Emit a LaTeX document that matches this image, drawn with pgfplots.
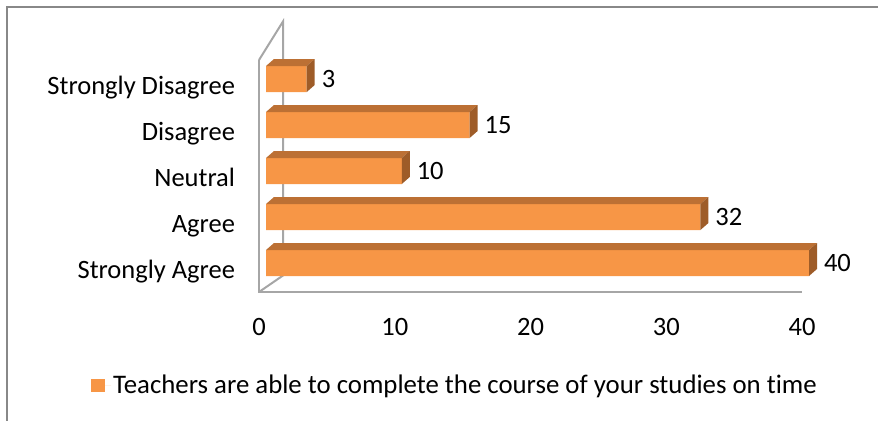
\documentclass[border=0pt]{standalone}
\usepackage{pgfplots}
\pgfplotsset{compat=1.18}
\usepackage{fontspec}
\setmainfont{Carlito}[Ligatures=NoCommon]
\definecolor{barfront}{RGB}{247,150,70}
\definecolor{bartop}{RGB}{188,112,52}
\definecolor{barside}{RGB}{158,92,40}
\definecolor{wall}{RGB}{166,166,166}
\definecolor{frame}{RGB}{136,136,136}

\pgfdeclareplotmark{bar3d}{%
  \pgfmathsetmacro\L{\val*13.575}%
  \pgfsetfillcolor{bartop}%
  \pgfpathmoveto{\pgfqpoint{-\L bp}{13bp}}%
  \pgfpathlineto{\pgfqpoint{0bp}{13bp}}%
  \pgfpathlineto{\pgfqpoint{8bp}{20bp}}%
  \pgfpathlineto{\pgfpointadd{\pgfqpoint{-\L bp}{0bp}}{\pgfqpoint{8bp}{20bp}}}%
  \pgfpathclose
  \pgfusepath{fill}%
  \pgfsetfillcolor{barside}%
  \pgfpathmoveto{\pgfqpoint{0bp}{-13bp}}%
  \pgfpathlineto{\pgfqpoint{8bp}{-6bp}}%
  \pgfpathlineto{\pgfqpoint{8bp}{20bp}}%
  \pgfpathlineto{\pgfqpoint{0bp}{13bp}}%
  \pgfpathclose
  \pgfusepath{fill}%
}

\begin{document}
\fontsize{26.5bp}{32bp}\selectfont
\begin{tikzpicture}
\useasboundingbox (0,0) rectangle (878bp,421bp);
\draw[frame, line width=2bp] (7bp,0) -- (7bp,414bp) -- (878bp,414bp);

% frame axis (walls and tick labels)
\begin{axis}[
  at={(259bp,129bp)}, anchor=south west,
  x=13.575bp, y=46bp,
  xmin=0, xmax=40, ymin=-0.478, ymax=4.565,
  axis line style={draw=none},
  major tick length=0pt,
  tick style={draw=none},
  xtick={0,10,20,30,40},
  ytick={0,1,2,3,4},
  yticklabels={Strongly Agree, Agree, Neutral, Disagree, Strongly Disagree},
  xticklabel shift=17bp,
  yticklabel shift=15bp,
  yticklabel style={anchor=base east, yshift=-8.3bp},
  /pgf/number format/assume math mode=true,
  clip=false,
]
\addplot[draw=none, forget plot] coordinates {(0,0)};
\draw[wall, line width=2bp] (axis cs:0,4.565) -- (axis cs:0,-0.478) -- (axis cs:40,-0.478);
\draw[wall, line width=2bp] (axis cs:0,-0.478) -- ++(24bp,16.5bp) -- ++(0,232bp) -- (axis cs:0,4.565);
\end{axis}

% bar axis (shifted for depth)
\begin{axis}[
  at={(266bp,136bp)}, anchor=south west,
  x=13.575bp, y=46bp,
  xmin=0, xmax=40, ymin=-0.478, ymax=4.565,
  hide axis,
  clip=false,
  /pgf/number format/assume math mode=true,
  legend style={at={(0.348,-0.435)}, anchor=center, draw=none, fill=none,
    legend cell align=left, font=\fontsize{26.8bp}{32bp}\selectfont},
  legend image code/.code={\fill[barfront] (0bp,-6.5bp) rectangle (14bp,6.5bp);
    \path (14bp,0bp) -- (20bp,0bp);},
]
\addplot[xbar, bar width=26bp, fill=barfront, draw=none,
  nodes near coords, nodes near coords align=horizontal,
  every node near coord/.append style={anchor=west, xshift=6bp, text=black}]
  coordinates {(40,0) (32,1) (10,2) (15,3) (3,4)};
\addlegendentry{Teachers are able to complete the course of your studies on time}
\addplot[only marks, mark=bar3d, forget plot,
  visualization depends on={rawx \as \val}]
  coordinates {(40,0) (32,1) (10,2) (15,3) (3,4)};
\end{axis}
\end{tikzpicture}
\end{document}
